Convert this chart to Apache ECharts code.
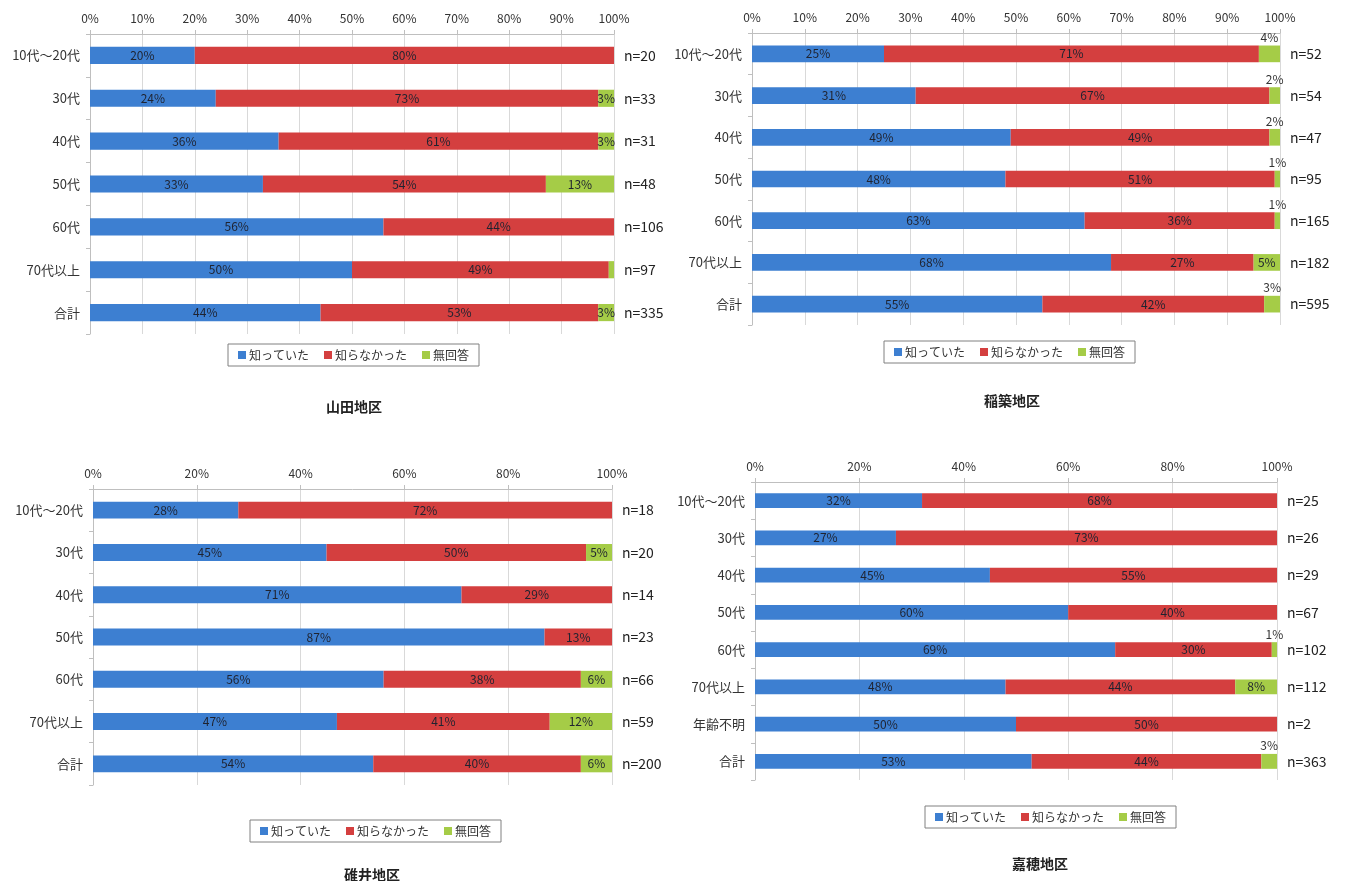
<!DOCTYPE html>
<html><head><meta charset="utf-8">
<script src="https://cdn.jsdelivr.net/npm/echarts@6/dist/echarts.min.js"></script>
<style>html,body{margin:0;padding:0;background:#fff}#c{width:1345px;height:881px}</style>
</head><body><div id="c"></div>
<script>
// ---- data ----
const seriesNames = ['知っていた', '知らなかった', '無回答'];
const ages7 = ['10代～20代', '30代', '40代', '50代', '60代', '70代以上', '合計'];
const ages8 = ['10代～20代', '30代', '40代', '50代', '60代', '70代以上', '年齢不明', '合計'];

const yamadaKnew   = [20, 24, 36, 33, 56, 50, 44];
const yamadaNot    = [80, 73, 61, 54, 44, 49, 53];
const yamadaNoAns  = [0, 3, 3, 13, 0, 1, 3];
const yamadaN      = [20, 33, 31, 48, 106, 97, 335];

const inabaKnew    = [25, 31, 49, 48, 63, 68, 55];
const inabaNot     = [71, 67, 49, 51, 36, 27, 42];
const inabaNoAns   = [4, 2, 2, 1, 1, 5, 3];
const inabaN       = [52, 54, 47, 95, 165, 182, 595];

const usuiKnew     = [28, 45, 71, 87, 56, 47, 54];
const usuiNot      = [72, 50, 29, 13, 38, 41, 40];
const usuiNoAns    = [0, 5, 0, 0, 6, 12, 6];
const usuiN        = [18, 20, 14, 23, 66, 59, 200];

const kahoKnew     = [32, 27, 45, 60, 69, 48, 50, 53];
const kahoNot      = [68, 73, 55, 40, 30, 44, 50, 44];
const kahoNoAns    = [0, 0, 0, 0, 1, 8, 0, 3];
const kahoN        = [25, 26, 29, 67, 102, 112, 2, 363];

const xTicks10 = 10;
const xTicks20 = 20;

// ---- layout / style ----
const FONT = 'Noto Sans CJK JP';
const COLORS = ['#3d7fd1', '#d43f3f', '#a5cc47'];
const panels = [
  {title: '山田地区', cats: ages7, vals: [yamadaKnew, yamadaNot, yamadaNoAns], n: yamadaN, interval: xTicks10,
   grid: {left: 90, top: 34, width: 524, height: 300}, legend: {left: 228, top: 344}, titlePos: [354, 407], small: 'inside'},
  {title: '稲築地区', cats: ages7, vals: [inabaKnew, inabaNot, inabaNoAns], n: inabaN, interval: xTicks10,
   grid: {left: 752, top: 33, width: 528, height: 292}, legend: {left: 884, top: 341}, titlePos: [1012, 401], small: 'top'},
  {title: '碓井地区', cats: ages7, vals: [usuiKnew, usuiNot, usuiNoAns], n: usuiN, interval: xTicks20,
   grid: {left: 93, top: 489, width: 519, height: 296}, legend: {left: 250, top: 820}, titlePos: [372, 875], small: 'inside'},
  {title: '嘉穂地区', cats: ages8, vals: [kahoKnew, kahoNot, kahoNoAns], n: kahoN, interval: xTicks20,
   grid: {left: 755, top: 482, width: 522, height: 298}, legend: {left: 925, top: 806}, titlePos: [1040, 864], small: 'top'}
];

const option = {
  animation: false,
  textStyle: {fontFamily: FONT},
  grid: [], xAxis: [], yAxis: [], series: [], legend: [], graphic: []
};

panels.forEach((p, gi) => {
  option.grid.push(Object.assign({containLabel: false}, p.grid));
  option.xAxis.push({
    type: 'value', gridIndex: gi, min: 0, max: 100, interval: p.interval, position: 'top',
    axisLine: {show: true, lineStyle: {color: '#bfbfbf'}},
    axisTick: {show: true, length: 4, lineStyle: {color: '#bfbfbf'}},
    splitLine: {show: true, lineStyle: {color: '#d9d9d9'}},
    axisLabel: {formatter: '{value}%', color: '#333', fontSize: 12, margin: 10, fontFamily: FONT}
  });
  option.yAxis.push({
    type: 'category', gridIndex: gi, inverse: true, data: p.cats,
    axisLine: {show: true, lineStyle: {color: '#bfbfbf'}},
    axisTick: {show: true, length: 4, lineStyle: {color: '#bfbfbf'}},
    axisLabel: {color: '#333', fontSize: 13, margin: 10, fontFamily: FONT}
  });
  option.yAxis.push({
    type: 'category', gridIndex: gi, inverse: true, position: 'right', data: p.n.map(v => 'n=' + v),
    axisLine: {show: false}, axisTick: {show: false},
    axisLabel: {color: '#222', fontSize: 14, margin: 10, fontFamily: FONT}
  });
  p.vals.forEach((arr, si) => {
    const data = arr.map(v => {
      const item = {value: v};
      if (si === 2) {
        if (p.small === 'top' && v > 0 && v < 5) {
          item.label = {show: true, position: 'top', distance: 2, color: '#333', fontSize: 12};
        } else if (p.small === 'inside' && v < 2) {
          item.label = {show: false};
        }
      }
      return item;
    });
    option.series.push({
      type: 'bar', name: seriesNames[si], stack: 'g' + gi, xAxisIndex: gi, yAxisIndex: gi * 2,
      barWidth: '40%', data: data,
      itemStyle: {color: COLORS[si]},
      label: {show: true, position: 'inside', color: '#1f2330', fontSize: 12, fontFamily: FONT,
        formatter: d => d.value > 0 ? d.value + '%' : ''}
    });
  });
  option.legend.push({
    data: seriesNames, left: p.legend.left, top: p.legend.top, orient: 'horizontal',
    icon: 'rect', itemWidth: 8, itemHeight: 8, itemGap: 15,
    borderColor: '#808080', borderWidth: 1, padding: [5, 10], borderRadius: 0,
    textStyle: {fontSize: 12, color: '#333', fontFamily: FONT, padding: [0, 0, 0, -2]},
    selectedMode: false
  });
  option.graphic.push({
    type: 'text', x: p.titlePos[0], y: p.titlePos[1],
    style: {text: p.title, font: 'bold 14px "' + FONT + '"', fill: '#222',
      textAlign: 'center', textVerticalAlign: 'middle'}
  });
});

const chart = echarts.init(document.getElementById('c'));
chart.setOption(option);
</script></body></html>
